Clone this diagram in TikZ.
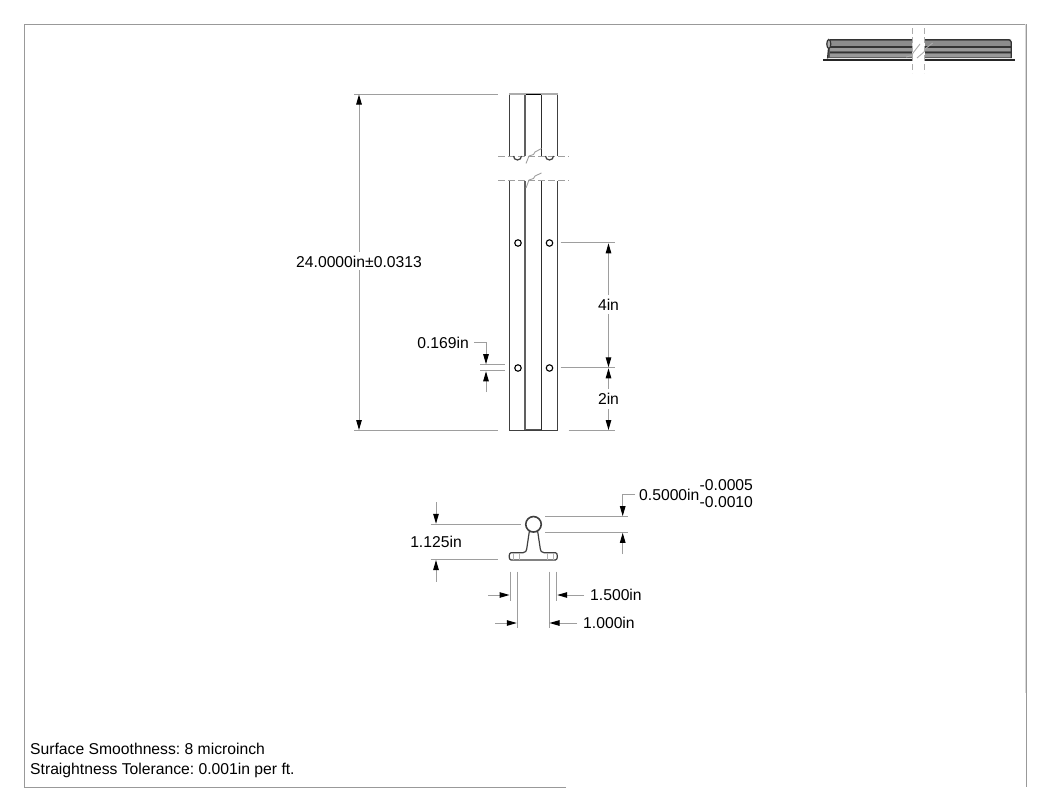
\documentclass[tikz,border=0pt]{standalone}
\usepackage{fontspec}
\setmainfont{Liberation Sans}
\usetikzlibrary{arrows.meta}
\definecolor{frameC}{gray}{0.6}
\definecolor{dimC}{gray}{0.62}
\definecolor{partC}{gray}{0.25}
\tikzset{
 x=1pt,y=-1pt,
 frameline/.style={draw=frameC,line width=1pt},
 dimline/.style={draw=dimC,line width=1pt},
 arrowline/.style={draw=dimC,line width=1pt,-{Triangle[black,length=10pt,width=5.5pt]}},
 partline/.style={draw=partC,line width=1.2pt},
 thick part/.style={draw=gray!75!black,line width=1.8pt},
 breakline/.style={draw=gray!75,line width=0.9pt,dash pattern=on 7pt off 3pt},
 hole/.style={circle,draw=black,line width=1.1pt,minimum size=6.5pt,inner sep=0pt,fill=white},
 lab/.style={font=\fontsize{15.7}{17}\selectfont,text=black,inner sep=0pt},
 tol/.style={font=\fontsize{15.7}{15}\selectfont,text=black,inner sep=0pt,anchor=west},
 rail dark/.style={draw=black!80,line width=1.4pt},
}
\begin{document}
\frenchspacing
\begin{tikzpicture}
\useasboundingbox (0,0) rectangle (1050,811);
\fill[white] (0,0) rectangle (1050,811);
% sheet frame
\draw[frameline] (566,787) -- (24,787) -- (24,24) -- (1026,24) -- (1026,787);
\draw[draw=gray!30,line width=1pt] (1025,24) -- (1025,693);
% top view of rail
\draw[partline] (509.3,156) -- (509.3,94.5) (557.5,156) -- (557.5,94.5);
\draw[partline] (509.3,181) -- (509.3,430.5) -- (557.5,430.5) -- (557.5,181);
\draw[thick part] (525.3,156) -- (525.3,94.5) (525.3,181) -- (525.3,430);
\draw[partline,draw=gray!35!black] (541.5,156) -- (541.5,94.5) (541.5,181) -- (541.5,430);
\draw[draw=gray!65,line width=1.2pt] (509,94) -- (558,94);
\draw[draw=black,line width=1.4pt] (526,94.7) -- (541,94.7);
\draw[draw=gray!65!black,line width=1.4pt] (526,429.5) -- (541,429.5);
% break marks
\draw[breakline] (498,156) -- (569,156);
\draw[breakline] (498,180) -- (569,180);
\draw[draw=gray!75,line width=0.9pt] (526,163.5) -- (529,156) -- (533.5,154.5) -- (535,152) -- (541.5,148.5);
\draw[draw=gray!75,line width=0.9pt] (526,188) -- (529,180) -- (533.5,178.5) -- (535,176) -- (541.5,173);
\draw[partline] (513.5,156) arc[start angle=180,end angle=0,radius=4];
\draw[partline] (545.5,156) arc[start angle=180,end angle=0,radius=4];
% holes
\node[hole] (h1) at (518,243) {};
\node[hole] (h2) at (549.5,243) {};
\node[hole] (h3) at (518,368) {};
\node[hole] (h4) at (549.5,368) {};
% 24 in dimension
\coordinate (t1) at (497.5,94);
\coordinate (t2) at (353.5,94);
\coordinate (b1) at (497.5,430.5);
\coordinate (b2) at (353.5,430.5);
\draw[dimline] (t1) -- (t2) (b1) -- (b2);
\node[lab] (d24) at (359,261.5) {24.0000in±0.0313};
\draw[arrowline] (359,252) -- (359,94.5);
\draw[arrowline] (359,270) -- (359,430);
% 4in, 2in
\draw[dimline] (560.5,242.8) -- (615,242.8) (560.5,367.8) -- (615,367.8) (568.5,430.5) -- (615,430.5);
\node[lab] (d4) at (608.5,304.5) {4in};
\node[lab] (d2) at (608.5,399) {2in};
\draw[arrowline] (608.5,295) -- (608.5,243.3);
\draw[arrowline] (608.5,314) -- (608.5,367.3);
\draw[arrowline] (608.5,389) -- (608.5,368.3);
\draw[arrowline] (608.5,409) -- (608.5,430);
% 0.169in
\node[lab,anchor=east] (d169) at (469,342.5) {0.169in};
\draw[dimline] (480,364.7) -- (505,364.7) (480,370.8) -- (505,370.8);
\draw[arrowline] (474,342.7) -- (486,342.7) -- (486,364.2);
\draw[arrowline] (486,392) -- (486,371.3);
% end view
\draw[partline,line join=round,fill=white] (511,560) -- (555.5,560) .. controls (558,560) and (558,552.7) .. (555.5,552.7) -- (544,552.7)
 .. controls (541.5,552.5) and (540.5,551) .. (540.3,549) -- (537.7,531.5) -- (529.3,531.5) -- (526.7,549)
 .. controls (526.5,551) and (525.5,552.5) .. (523,552.7) -- (511,552.7)
 .. controls (508.5,552.7) and (508.5,560) .. (511,560) -- cycle;
\draw[draw=gray!60,line width=0.6pt] (513,553) -- (513,560) (519,553) -- (519,560)
 (547.7,553) -- (547.7,560) (553.3,553) -- (553.3,560);
\node[circle,draw=partC,line width=1.6pt,minimum size=15.5pt,inner sep=0pt,fill=white] (ring) at (533.5,524.3) {};
% 1.125in
\draw[dimline] (430.5,524.3) -- (520.7,524.3) (430.5,559.5) -- (498,559.5);
\node[lab] (d1125) at (436,541.5) {1.125in};
\draw[arrowline] (436,502) -- (436,523.8);
\draw[arrowline] (436,581.5) -- (436,560);
% 0.5000in
\node[lab,anchor=west] (d05) at (639,494.5) {0.5000in};
\node[tol] (tolA) at (699.5,485) {-0.0005};
\node[tol] (tolB) at (699.5,502) {-0.0010};
\draw[dimline] (545,516.7) -- (628,516.7) (545,532.3) -- (628,532.3);
\draw[arrowline] (635,494) -- (622.7,494) -- (622.7,516.2);
\draw[arrowline] (622.7,554) -- (622.7,532.8);
% 1.500in / 1.000in
\draw[dimline] (510,571.5) -- (510,600.7) (517.3,571.5) -- (517.3,628) (549,571.5) -- (549,628) (556.7,571.5) -- (556.7,600.7);
\node[lab,anchor=west] (d15) at (590,595) {1.500in};
\node[lab,anchor=west] (d10) at (583,623) {1.000in};
\draw[arrowline] (488,595) -- (509.5,595);
\draw[arrowline] (584,595) -- (557.2,595);
\draw[arrowline] (495,623) -- (516.8,623);
\draw[arrowline] (577,623) -- (549.5,623);
% notes
\node[lab,anchor=west] (n1) at (30,749) {Surface Smoothness: 8 microinch};
\node[lab,anchor=west] (n2) at (30,770.5) {Straightness Tolerance: 0.001in per ft.};
% isometric thumbnail
\fill[gray!70!black] (828,39.5) rectangle (912,58) (925,39.5) rectangle (1011,58);
\fill[gray!90] (828,41) rectangle (912,46) (925,41) rectangle (1011,46);
\fill[gray!80] (830,48) rectangle (912,51) (925,48) rectangle (1011,51);
\fill[gray!80] (830,53.5) rectangle (912,57) (925,53.5) rectangle (1011,57);
\draw[rail dark] (830,39.5) -- (912,39.5) (925,39.5) -- (1009,39.5)
 (830,47) -- (912,47) (925,47) -- (1011,47)
 (830,52.3) -- (912,52.3) (925,52.3) -- (1011,52.3);
\draw[draw=black!85,line width=2pt] (823,59.5) -- (912,59.5) (925,59.5) -- (1015,59.5);
\draw[rail dark,line width=1.2pt] (1009,39.5) -- (1011.3,42) -- (1011.3,58);
\draw[rail dark,fill=gray!60,line width=1.2pt] (828.8,44) ellipse[x radius=2,y radius=4.5];
\draw[rail dark,line width=1.2pt] (828.5,48.5) -- (827.5,58.5);
\draw[draw=gray!65,line width=1pt,dash pattern=on 6pt off 3pt] (912.7,28) -- (912.7,73) (924.7,28) -- (924.7,73);
\draw[draw=gray!65,line width=0.9pt] (906,57) -- (912,55.5) -- (913,53) -- (920,44);
\draw[draw=gray!65,line width=0.9pt] (917,58) -- (924,52) -- (925,49) -- (932.7,43);
\end{tikzpicture}
\end{document}
